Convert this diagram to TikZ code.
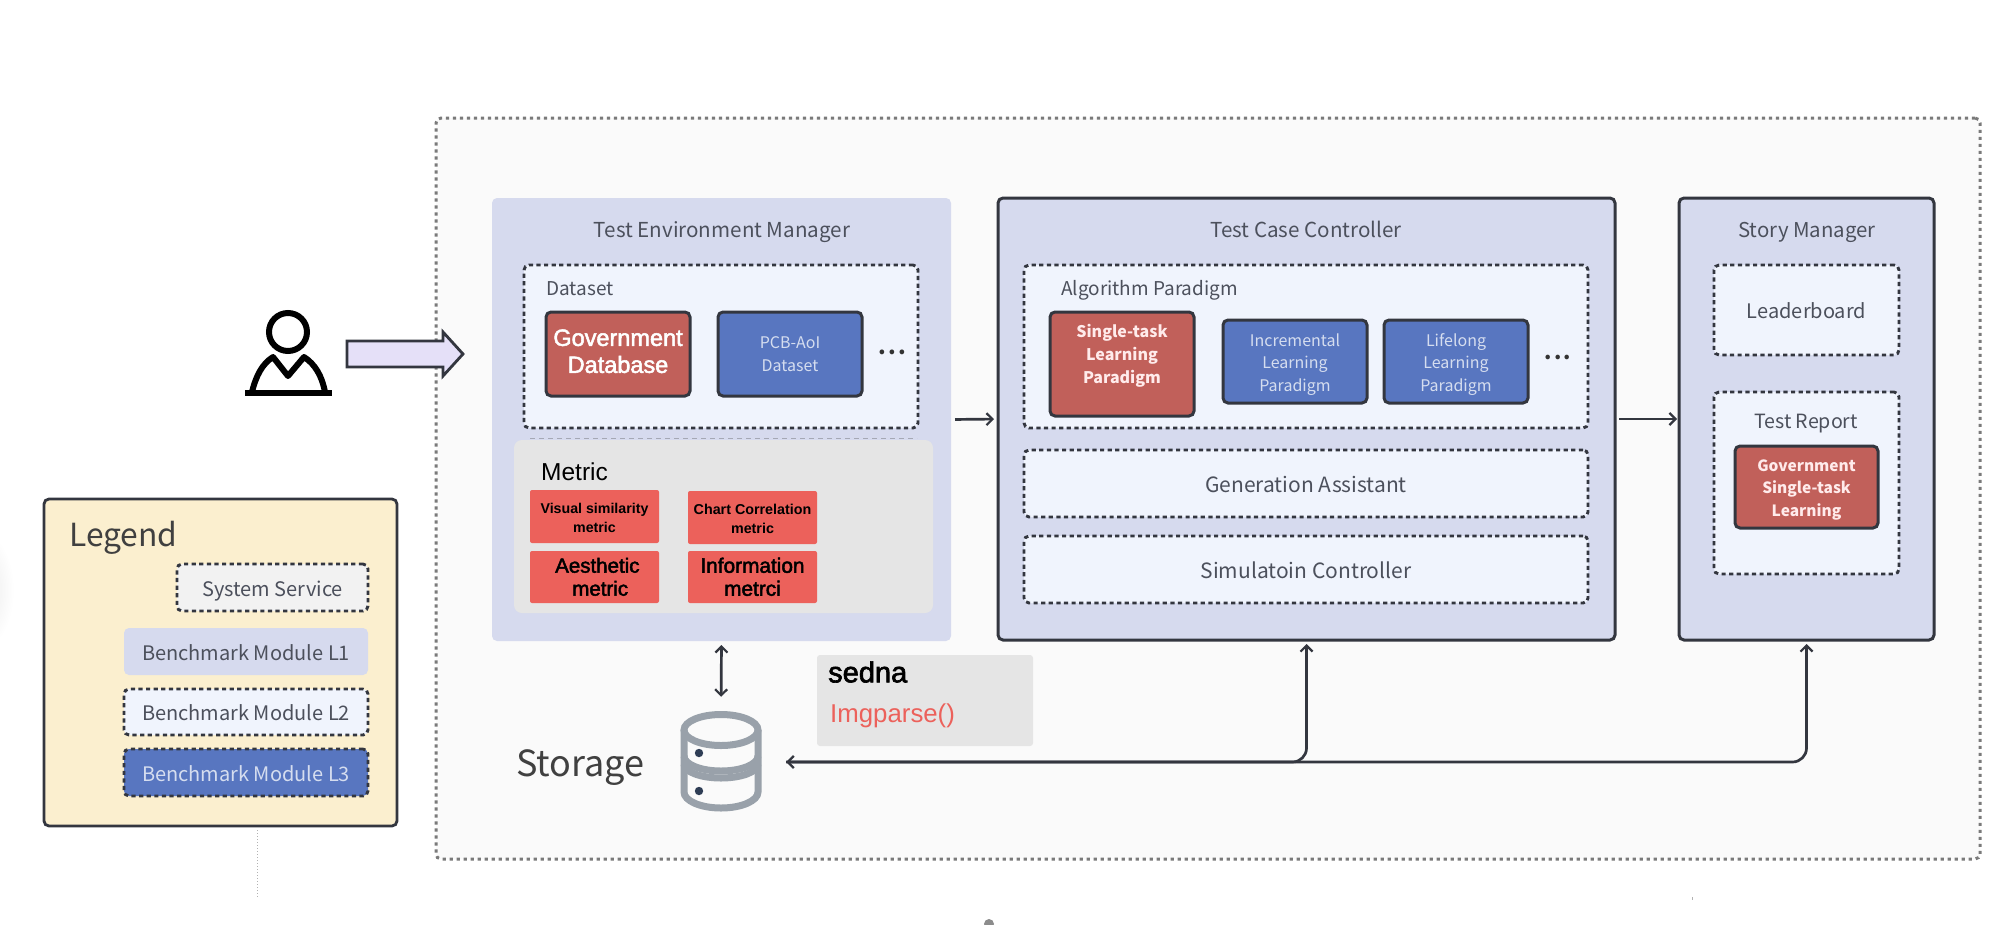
\documentclass[tikz,border=0pt]{standalone}
\usepackage{fontspec}
\usetikzlibrary{arrows.meta,calc}
\setmainfont{Noto Sans CJK SC}
\newfontfamily\helv{Liberation Sans}
\newfontfamily\helvmed[FakeBold=2.2]{Liberation Sans}
\definecolor{linkc}{HTML}{33363F}
\definecolor{txt}{HTML}{4C505C}
\definecolor{lone}{HTML}{D6DAEE}
\definecolor{ltwo}{HTML}{F0F4FD}
\definecolor{lthree}{HTML}{5876C0}
\definecolor{redbox}{HTML}{C1605A}
\definecolor{metricred}{HTML}{EC615B}
\definecolor{greybox}{HTML}{E5E5E5}
\definecolor{dbgrey}{HTML}{99A1AA}
\definecolor{userfill}{HTML}{E5E0F8}
\definecolor{legendfill}{HTML}{FBEFCF}
\definecolor{dbdot}{HTML}{2E3D55}
\newcommand{\shifted}[2]{\raisebox{#1}[0pt][0pt]{\makebox[0pt][c]{\parbox{140pt}{\centering #2}}}}
\tikzset{
  box/.style={anchor=north west,inner sep=0pt,outer sep=0pt,rounded corners=5pt,align=center,text=txt,font=\fontsize{20}{24}\selectfont},
  solidmod/.style={box,fill=lone,draw=linkc,line width=3pt},
  plainmod/.style={box,fill=lone},
  dashmod/.style={box,fill=ltwo,draw=linkc,line width=2.9pt,dash pattern=on 4.2pt off 3.4pt},
  redmod/.style={box,fill=redbox,draw=linkc,line width=3pt,text=white!92!red},
  bluemod/.style={box,fill=lthree,draw=linkc,line width=3pt,text=white!75!lthree},
  metricbox/.style={box,rounded corners=2pt,fill=metricred,text=black},
  greypanel/.style={box,fill=greybox,rounded corners=8pt},
  oneline/.style={text height=20pt,text depth=3pt},
  label/.style={inner sep=0pt,text=txt,anchor=base,font=\fontsize{20}{24}\selectfont},
  conn/.style={draw=linkc,line width=2.7pt,arrows={-Straight Barb[length=6pt,width=12pt,line width=2.2pt]}},
  bothconn/.style={draw=linkc,line width=2.7pt,arrows={Straight Barb[length=6pt,width=12pt,line width=2.2pt]-Straight Barb[length=6pt,width=12pt,line width=2.2pt]}},
}
\begin{document}
\begin{tikzpicture}[x=1pt,y=-1pt]
\useasboundingbox (0,0) rectangle (2012,924);
\fill[white] (0,0) rectangle (2012,924);
% faint artefacts of the picture
\begin{scope}
\clip (0,0) rectangle (2012,924);
\shade[inner color=black!9,outer color=white] (-20,590) ellipse (34 and 60);
\fill[black!45] (989,924) circle (5);
\end{scope}
\draw[black!30,line width=1pt] (1692,897) -- (1692,900);
\coordinate (dotA) at (257,830);
\coordinate (dotB) at (257,898);
\draw[black!30,line width=1pt,dotted] (dotA) -- (dotB);
% outer frame
\node[box,name=outer,minimum width=1544pt,minimum height=741pt,fill=black!2,draw=black!52,line width=3pt,dash pattern=on 3.2pt off 3.8pt] at (436,118) {};
% person
\draw[black,line width=6pt] (288,332) circle (19);
\node[name=person,inner sep=0pt,minimum width=87pt,minimum height=86pt] at (288.5,354) {};
\draw[black,line width=6pt,line join=round] (252,392) .. controls (256,376) and (262,364) .. (273,357) -- (288,376) -- (304,357) .. controls (315,364) and (322,376) .. (325,392);
\draw[black,line width=6pt] (245,393) -- (332,393);
% user arrow
\draw[draw=linkc,line width=2.8pt,fill=userfill,line join=miter] (347,341) -- (443,341) -- (443,332) -- (463,354) -- (443,376) -- (443,367) -- (347,367) -- cycle;
% legend
\node[box,name=legend,minimum width=353pt,minimum height=327pt,fill=legendfill,draw=linkc,line width=2.8pt] at (44,499) {};
\node[label,anchor=base west,font=\fontsize{31.8}{36}\selectfont,text=black!75] (legendt) at (69,546) {Legend};
\node[dashmod,oneline,name=lsys,minimum width=191pt,minimum height=47pt,fill=black!5] at (177,564) {System Service};
\node[plainmod,oneline,name=lone,minimum width=244pt,minimum height=47pt] at (124,628) {Benchmark Module L1};
\node[dashmod,oneline,name=ltwo,minimum width=244pt,minimum height=46pt] at (124,689) {Benchmark Module L2};
\node[dashmod,oneline,name=lthree,minimum width=244pt,minimum height=47pt,fill=lthree,text=white!75!lthree] at (124,749) {Benchmark Module L3};
% Test Environment Manager
\node[plainmod,name=tem,minimum width=459pt,minimum height=443pt] at (492,198) {};
\node[label,font=\fontsize{20.6}{24}\selectfont] (temt) at (722,237) {Test Environment Manager};
\node[dashmod,name=dataset,minimum width=394pt,minimum height=163pt] at (524,265) {};
\node[label,anchor=base west,font=\fontsize{19}{24}\selectfont] (datasett) at (546,295) {Dataset};
\node[redmod,name=gov,minimum width=144pt,minimum height=84pt,font=\helvmed\fontsize{23.5}{27}\selectfont,text=white] at (546,312) {\shifted{-3.5pt}{Government\\Database}};
\node[bluemod,name=pcb,minimum width=144pt,minimum height=84pt,font=\fontsize{16}{23.5}\selectfont] at (718,312) {PCB-AoI\\Dataset};
\node[label,font=\bfseries\fontsize{22}{22}\selectfont,text=black!80] (dots1) at (892.5,354) {.\kern2pt.\kern2pt.};
\draw[black!70,dash pattern=on 5pt off 4pt,line width=0.8pt,opacity=.35] (530,438) -- (917,438);
\node[greypanel,name=metric,minimum width=419pt,minimum height=173pt] at (514,440) {};
\node[label,anchor=base west,font=\helv\fontsize{24.5}{27}\selectfont,text=black] (metrict) at (541,480) {Metric};
\node[metricbox,name=mvis,minimum width=129pt,minimum height=53pt,font=\helv\bfseries\fontsize{14.2}{18.3}\selectfont] at (530,490) {\shifted{-5pt}{Visual similarity\\metric}};
\node[metricbox,name=mchart,minimum width=129pt,minimum height=53pt,font=\helv\bfseries\fontsize{14.3}{18.3}\selectfont] at (688,491) {\shifted{-5pt}{Chart Correlation\\metric}};
\node[metricbox,name=maes,minimum width=129pt,minimum height=52pt,font=\helvmed\fontsize{20.5}{23}\selectfont] at (530,551) {\shifted{-5pt}{\ Aesthetic\\\ \ metric}};
\node[metricbox,name=minf,minimum width=129pt,minimum height=52pt,font=\helvmed\fontsize{20.8}{23}\selectfont] at (688,551) {\shifted{-5pt}{Information\\metrci}};
% Test Case Controller
\node[solidmod,name=tcc,minimum width=617pt,minimum height=442pt] at (998,198) {};
\node[label,font=\fontsize{20.6}{24}\selectfont] (tcct) at (1306,237) {Test Case Controller};
\node[dashmod,name=algo,minimum width=564pt,minimum height=163pt] at (1024,265) {};
\node[label,anchor=base west,font=\fontsize{19}{24}\selectfont] (algot) at (1061,295) {Algorithm Paradigm};
\node[redmod,name=single,minimum width=144pt,minimum height=104pt,font=\bfseries\fontsize{16}{23}\selectfont] at (1050,312) {\shifted{4pt}{Single-task\\Learning\\Paradigm}};
\node[bluemod,name=incr,minimum width=144pt,minimum height=83pt,font=\fontsize{16}{22.5}\selectfont] at (1223,320) {\shifted{-7pt}{Incremental\\Learning\\Paradigm}};
\node[bluemod,name=life,minimum width=144pt,minimum height=83pt,font=\fontsize{16}{22.5}\selectfont] at (1384,320) {\shifted{-7pt}{Lifelong\\Learning\\Paradigm}};
\node[label,font=\bfseries\fontsize{21}{21}\selectfont,text=black!80] (dots2) at (1558,359) {.\kern2pt.\kern2pt.};
\node[dashmod,oneline,name=gen,minimum width=564pt,minimum height=67pt,font=\fontsize{21}{24}\selectfont] at (1024,450) {Generation Assistant};
\node[dashmod,oneline,name=sim,minimum width=564pt,minimum height=67pt,font=\fontsize{21}{24}\selectfont] at (1024,536) {Simulatoin Controller};
% Story Manager
\node[solidmod,name=sm,minimum width=255pt,minimum height=442pt] at (1679,198) {};
\node[label,font=\fontsize{20.4}{24}\selectfont] (smt) at (1807,237) {Story Manager};
\node[dashmod,oneline,name=lead,minimum width=185pt,minimum height=90pt,font=\fontsize{20}{24}\selectfont] at (1714,265) {Leaderboard};
\node[dashmod,name=report,minimum width=185pt,minimum height=182pt] at (1714,392) {};
\node[label,font=\fontsize{19.6}{24}\selectfont] (reportt) at (1806,428) {Test Report};
\node[redmod,name=govst,minimum width=143pt,minimum height=82pt,font=\bfseries\fontsize{15.5}{22.5}\selectfont] at (1735,446) {\shifted{-6.5pt}{Government\\Single-task\\Learning}};
% sedna
\node[greypanel,name=sedna,minimum width=216pt,minimum height=91pt,rounded corners=3pt] at (817,655) {};
\node[anchor=west,inner sep=0pt,font=\helvmed\fontsize{29}{32}\selectfont,text=black] (sednat) at (828,672) {sedna};
\node[anchor=west,inner sep=0pt,font=\helv\fontsize{25.8}{28}\selectfont,text=metricred] (imgp) at (830,716) {Imgparse()};
% storage
\node[label,anchor=base west,font=\fontsize{36}{42}\selectfont,text=black!75] (storage) at (516,776) {Storage};
\node[inner sep=0pt,minimum width=82pt,minimum height=100pt,name=db] at (721,762) {};
\begin{scope}[dbgrey,line width=7pt]
\draw (721,730) ellipse (37 and 15.5);
\draw (684,730) -- (684,792) arc[start angle=180,end angle=360,x radius=37,y radius=-16] -- (758,730);
\draw (684,756) arc[start angle=180,end angle=360,x radius=37,y radius=-15];
\draw (684,764) arc[start angle=180,end angle=360,x radius=37,y radius=-14];
\end{scope}
\fill[dbdot] (699,753) circle (4.2) (699,791) circle (4.2);
% connectors
\draw[conn,shorten <=4pt,shorten >=4pt] (tem.east) -- (tcc.west);
\draw[conn,shorten <=4pt,shorten >=2pt] (tcc.east) -- (sm.west);
\draw[bothconn,shorten <=4pt,shorten >=15pt] (tem.south) -- (db.north);
\draw[conn,rounded corners=14pt,shorten <=24pt,shorten >=4pt] (db.east) -| (tcc.south);
\draw[bothconn,rounded corners=14pt,shorten <=24pt,shorten >=4pt] (db.east) -| (sm.south);
\end{tikzpicture}
\end{document}
